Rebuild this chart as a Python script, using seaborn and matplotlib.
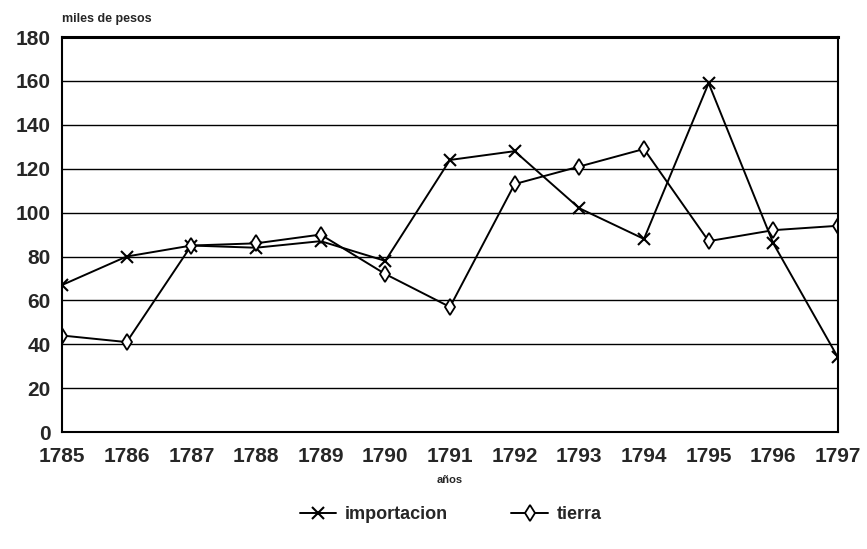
import pandas as pd
import matplotlib
matplotlib.use('Agg')
import matplotlib.pyplot as plt
import seaborn as sns

# Data (miles de pesos)
years = [1785, 1786, 1787, 1788, 1789, 1790, 1791, 1792, 1793, 1794, 1795, 1796, 1797]
importacion = [67, 80, 85, 84, 87, 78, 124, 128, 102, 88, 159, 86, 34]
tierra = [44, 41, 85, 86, 90, 72, 57, 113, 121, 129, 87, 92, 94]
y_ticks = [0, 20, 40, 60, 80, 100, 120, 140, 160, 180]

df = pd.DataFrame({'año': years, 'importacion': importacion, 'tierra': tierra})

sns.set_style('white')
plt.rcParams['font.family'] = ['Liberation Sans', 'DejaVu Sans']
plt.rcParams['font.weight'] = 'bold'

fig = plt.figure(figsize=(8.67, 5.49), dpi=100)
ax = fig.add_axes([0.0715, 0.213, 0.895, 0.7195])

# one call per series: x is line-art, diamond is filled
sns.lineplot(data=df, x='año', y='importacion', marker='x', color='black',
             linewidth=1.4, markersize=9, markeredgewidth=1.5,
             markeredgecolor='black', label='importacion', ax=ax)
sns.lineplot(data=df, x='año', y='tierra', marker='d', color='black',
             linewidth=1.4, markersize=8, markerfacecolor='white',
             markeredgecolor='black', markeredgewidth=1.3,
             label='tierra', ax=ax)

ax.set_xlim(1785, 1797)
ax.set_ylim(0, 180)
ax.set_xticks(years)
ax.set_xticklabels([str(y) for y in years], fontsize=15, fontweight='bold')
ax.set_yticks(y_ticks)
ax.set_yticklabels([str(v) for v in y_ticks], fontsize=15, fontweight='bold')
ax.yaxis.grid(True, color='black', linewidth=1.0)
ax.set_axisbelow(True)
ax.tick_params(axis='x', direction='in', length=6, width=1.5, color='black', pad=11)
ax.tick_params(axis='y', length=0, pad=8)

for side in ['left', 'bottom', 'right']:
    ax.spines[side].set_color('black')
    ax.spines[side].set_linewidth(1.5)
ax.spines['top'].set_color('black')
ax.spines['top'].set_linewidth(2.2)

ax.set_xlabel('años', fontsize=8, fontweight='bold', labelpad=6)
ax.set_ylabel('')
ax.text(0.0, 1.03, 'miles de pesos', transform=ax.transAxes, fontsize=9,
        fontweight='bold', ha='left', va='bottom')

handles, labels = ax.get_legend_handles_labels()
ax.get_legend().remove()
fig.legend(handles, labels, loc='center', bbox_to_anchor=(0.52, 0.062),
           ncol=2, frameon=False, fontsize=13, handlelength=2.0,
           columnspacing=3.5, handletextpad=0.5)

fig.savefig('out.png', dpi=100)
